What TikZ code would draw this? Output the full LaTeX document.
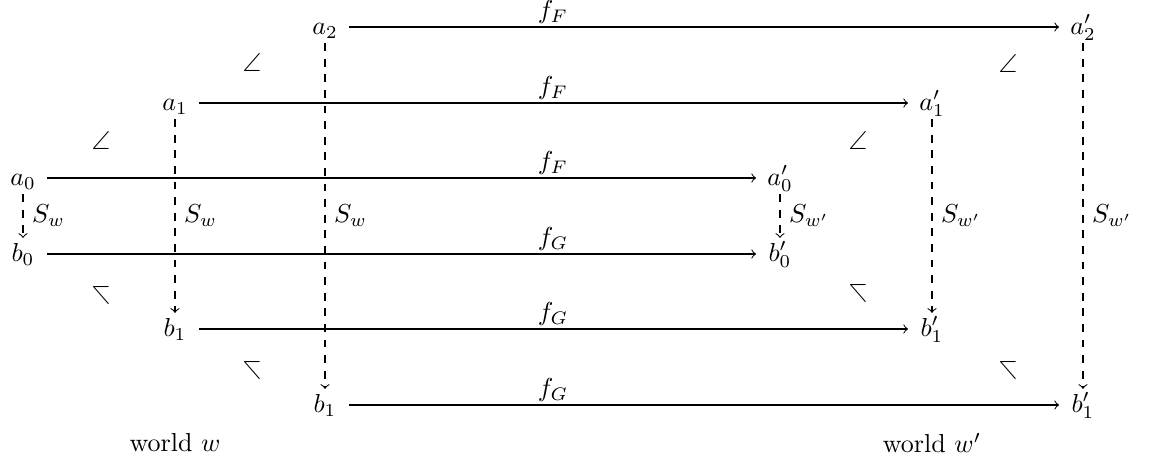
\documentclass[tikz,border=0pt]{standalone}
\usepackage{amssymb}
\begin{document}
\begin{tikzpicture}[x=0.3846pt,y=-0.3846pt,
  obj/.style={inner sep=0pt,minimum width=18pt,minimum height=12pt,text height=1.8ex,text depth=0.5ex},
  lab/.style={inner sep=0pt,anchor=south},
  map/.style={->},
  sec/.style={->,dashed},
  ang/.style={inner sep=0pt}]
\useasboundingbox (0,0) rectangle (1150,462);
% objects
\node[obj] (a0) at (23,178) {$a_0$};
\node[obj] (b0) at (23,254) {$b_0$};
\node[obj] (a1) at (175,103) {$a_1$};
\node[obj] (b1) at (175,329) {$b_1$};
\node[obj] (a2) at (325,27) {$a_2$};
\node[obj] (b2) at (325,405) {$b_1$};
\node[obj] (a0p) at (780,178) {$a'_0$};
\node[obj] (b0p) at (780,254) {$b'_0$};
\node[obj] (a1p) at (932,103) {$a'_1$};
\node[obj] (b1p) at (932,329) {$b'_1$};
\node[obj] (a2p) at (1083,27) {$a'_2$};
\node[obj] (b2p) at (1083,405) {$b'_1$};
% horizontal maps
\draw[map] (a2) -- (a2p);
\draw[map] (a1) -- (a1p);
\draw[map] (a0) -- (a0p);
\draw[map] (b0) -- (b0p);
\draw[map] (b1) -- (b1p);
\draw[map] (b2) -- (b2p);
\node[lab] (l2) at (553,24) {$f_F$};
\node[lab] (l1) at (553,100) {$f_F$};
\node[lab] (l0) at (553,175) {$f_F$};
\node[lab] (m0) at (553,251) {$f_G$};
\node[lab] (m1) at (553,326) {$f_G$};
\node[lab] (m2) at (553,402) {$f_G$};
% vertical sections
\draw[sec] (a0) -- (b0) node[midway,right] {$S_w$};
\draw[sec] (a1) -- (b1) node[pos=0.5,right] {$S_w$};
\draw[sec] (a2) -- (b2) node[pos=0.5,right] {$S_w$};
\draw[sec] (a0p) -- (b0p) node[midway,right] {$S_{w'}$};
\draw[sec] (a1p) -- (b1p) node[pos=0.5,right] {$S_{w'}$};
\draw[sec] (a2p) -- (b2p) node[pos=0.5,right] {$S_{w'}$};
% angles
\node[ang] (u1) at (101,140) {$\angle$};
\node[ang] (u2) at (252,62) {$\angle$};
\node[ang] (u3) at (858,140) {$\angle$};
\node[ang] (u4) at (1008,64) {$\angle$};
\node[ang] (d1) at (101,295) {\scalebox{1}[-1]{$\angle$}};
\node[ang] (d2) at (252,370) {\scalebox{1}[-1]{$\angle$}};
\node[ang] (d3) at (858,294) {\scalebox{1}[-1]{$\angle$}};
\node[ang] (d4) at (1008,370) {\scalebox{1}[-1]{$\angle$}};
% worlds
\node (ww) at (175,443) {world $w$};
\node (wwp) at (932,443) {world $w'$};
\end{tikzpicture}
\end{document}
